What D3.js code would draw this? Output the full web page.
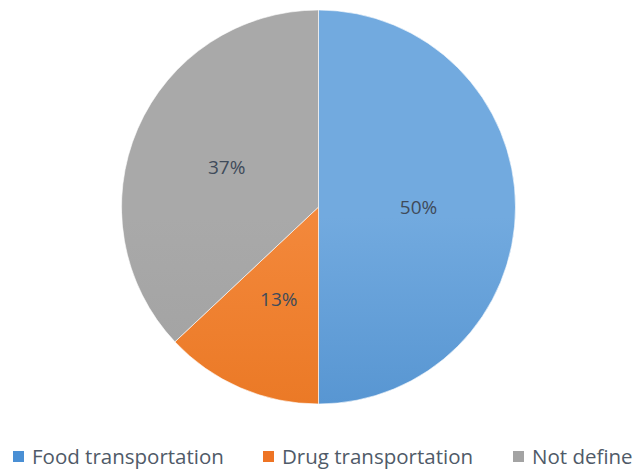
<!DOCTYPE html>
<html><head><meta charset="utf-8">
<script src="https://cdn.jsdelivr.net/npm/d3@7"></script>
<style>html,body{margin:0;padding:0;background:#fff;}svg{display:block;}</style>
</head><body>
<script>
const categories = ["Food transportation", "Drug transportation", "Not define"];
const values = [50, 13, 37];
const labels = ["50%", "13%", "37%"];
const colorsTop = ["#72aadf", "#f3883b", "#a9a9a9"];
const colorsBottom = ["#3b80c4", "#e2690f", "#999999"];
const legendColors = ["#4a8fd4", "#ee7424", "#a3a3a3"];

const W = 636, H = 471;
const cx = 318.5, cy = 207, R = 197;
const svg = d3.select("body").append("svg").attr("width", W).attr("height", H);
const defs = svg.append("defs");
categories.forEach((c, i) => {
  const g = defs.append("linearGradient").attr("id", "g" + i)
    .attr("gradientUnits", "userSpaceOnUse")
    .attr("x1", 0).attr("y1", cy - R).attr("x2", 0).attr("y2", cy + R);
  g.append("stop").attr("offset", "0%").attr("stop-color", colorsTop[i]);
  g.append("stop").attr("offset", "100%").attr("stop-color", colorsBottom[i]);
});
const pie = d3.pie().sort(null).value(d => d)(values);
const arc = d3.arc().innerRadius(0).outerRadius(R);
const gp = svg.append("g");
gp.selectAll("path").data(pie).enter().append("path")
  .attr("transform", `translate(${cx},${cy})`)
  .attr("d", arc)
  .attr("fill", (d, i) => `url(#g${i})`)
  .attr("stroke", "#ffffff").attr("stroke-width", 0.6);
const labelArc = d3.arc().innerRadius(100).outerRadius(100);
svg.selectAll("text.lbl").data(pie).enter().append("text")
  .attr("class", "lbl")
  .attr("x", d => cx + labelArc.centroid(d)[0])
  .attr("y", d => cy + labelArc.centroid(d)[1])
  .attr("text-anchor", "middle").attr("dominant-baseline", "central")
  .attr("font-family", "Open Sans, sans-serif").attr("font-size", 19)
  .attr("fill", "#404b5a")
  .text((d, i) => labels[i]);
// legend
const legX = [13, 263, 513];
const lg = svg.append("g");
categories.forEach((c, i) => {
  lg.append("rect").attr("x", legX[i]).attr("y", 451).attr("width", 11).attr("height", 11).attr("fill", legendColors[i]);
  lg.append("text").attr("x", legX[i] + 19).attr("y", 456)
    .attr("dominant-baseline", "central")
    .attr("font-family", "Open Sans, sans-serif").attr("font-size", 20.5)
    .attr("fill", "#4f5a68").text(c);
});
</script>
</body></html>
